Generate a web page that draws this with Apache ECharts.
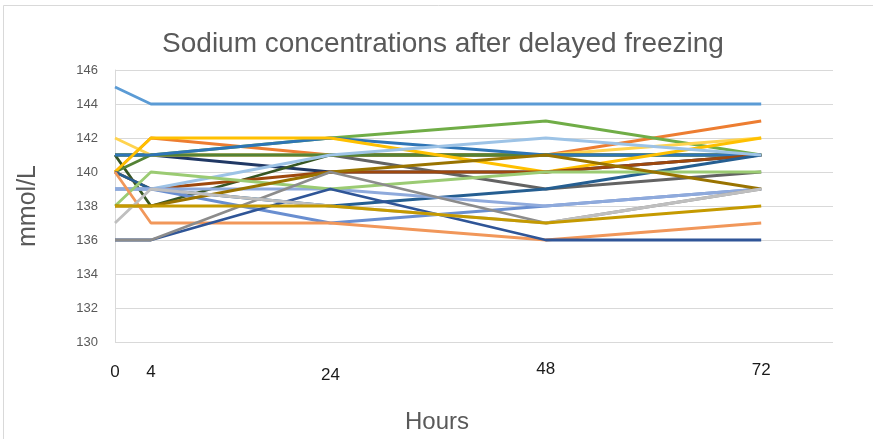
<!DOCTYPE html>
<html>
<head>
<meta charset="utf-8">
<script src="https://cdn.jsdelivr.net/npm/echarts@6/dist/echarts.min.js"></script>
<style>
  html, body { margin: 0; padding: 0; background: #ffffff; }
  #chart { width: 873px; height: 439px; }
</style>
</head>
<body>
<div id="chart"></div>
<script>
// Sampling times (hours after collection)
const hours = [0, 4, 24, 48, 72];
const hourTicks = [0, 4, 24, 48, 72];

// Sodium (mmol/L) per sample at each time point
const sampleA = [145, 144, 144, 144, 144];
const sampleB = [140, 142, 141, 141, 143];
const sampleC = [141, 141, 140, 140, 141];
const sampleD = [141, 141, 141, 139, 140];
const sampleE = [141, 141, 142, 143, 141];
const sampleF = [142, 141, 141, 141, 142];
const sampleG = [141, 138, 141, 141, 141];
const sampleH = [140, 141, 141, 141, 141];
const sampleI = [141, 141, 142, 141, 141];
const sampleJ = [140, 142, 142, 140, 142];
const sampleK = [140, 139, 140, 140, 141];
const sampleL = [140, 139, 138, 139, 141];
const sampleM = [139, 139, 141, 142, 141];
const sampleN = [139, 139, 137, 138, 139];
const sampleO = [139, 139, 139, 138, 139];
const sampleP = [138, 140, 139, 140, 140];
const sampleQ = [138, 138, 140, 141, 139];
const sampleR = [140, 137, 137, 136, 137];
const sampleS = [136, 136, 139, 136, 136];
const sampleT = [136, 136, 140, 137, 139];
const sampleU = [137, 139, 138, 137, 139];
const sampleV = [138, 138, 138, 137, 138];

const samples = [sampleA, sampleB, sampleC, sampleD, sampleE, sampleF, sampleG, sampleH,
  sampleI, sampleJ, sampleK, sampleL, sampleM, sampleN, sampleO, sampleP, sampleQ,
  sampleR, sampleS, sampleT, sampleU, sampleV];

const lineColors = ['#5B9BD5', '#ED7D31', '#203864', '#636363', '#70AD47', '#FFD34F',
  '#375623', '#548235', '#2E75B6', '#FFC000', '#9E480E', '#255E91', '#9DC3E6',
  '#698ED0', '#8FAADC', '#9BCB73', '#997300', '#F1975A', '#2F5597', '#8C8C8C',
  '#BFBFBF', '#C59A00'];

const textGray = '#595959';
const gridGray = '#D9D9D9';
const font = 'Liberation Sans';

// vertical nudges for the individual hour labels
const labelNudge = { 0: 3, 4: 3, 24: 6, 48: 0, 72: 1 };
const richLabels = {};
hourTicks.forEach(function (h) {
  richLabels['h' + h] = { fontSize: 17, color: '#1a1a1a', fontFamily: font, padding: [labelNudge[h], 0, 0, 0] };
});

const chart = echarts.init(document.getElementById('chart'), null, { renderer: 'canvas' });

chart.setOption({
  animation: false,
  backgroundColor: '#ffffff',
  title: {
    text: 'Sodium concentrations after delayed freezing',
    left: 443,
    top: 30,
    textAlign: 'center',
    padding: 0,
    textStyle: { fontFamily: font, fontSize: 28, fontWeight: 'normal', color: textGray }
  },
  graphic: [{
    type: 'rect',
    shape: { x: 3.5, y: 5.5, width: 900, height: 500 },
    style: { fill: 'none', stroke: gridGray, lineWidth: 1 },
    silent: true
  }],
  grid: { left: 115, right: 40, top: 70, bottom: 95, containLabel: false },
  xAxis: {
    type: 'value',
    min: 0,
    max: 80,
    name: 'Hours',
    nameLocation: 'middle',
    nameGap: 68,
    nameTextStyle: { fontFamily: font, fontSize: 24, color: textGray, padding: [0, 74, 0, 0] },
    axisLine: { show: false },
    axisTick: { show: false },
    splitLine: { show: false },
    axisLabel: {
      customValues: hourTicks,
      margin: 19,
      formatter: function (v) { return '{h' + v + '|' + v + '}'; },
      rich: richLabels
    }
  },
  yAxis: {
    type: 'value',
    min: 130,
    max: 146,
    interval: 2,
    name: 'mmol/L',
    nameLocation: 'middle',
    nameGap: 74,
    nameTextStyle: { fontFamily: font, fontSize: 25, color: textGray },
    axisLine: { show: true, lineStyle: { color: gridGray, width: 1 } },
    axisTick: { show: false },
    splitLine: { show: true, lineStyle: { color: gridGray, width: 1 } },
    axisLabel: { fontFamily: font, fontSize: 13, color: textGray, margin: 17 }
  },
  series: samples.map(function (vals, i) {
    return {
      type: 'line',
      data: hours.map(function (h, j) { return [h, vals[j]]; }),
      showSymbol: false,
      symbol: 'none',
      lineStyle: { color: lineColors[i], width: 2.8 },
      itemStyle: { color: lineColors[i] },
      z: 2 + i * 0.01
    };
  })
});
</script>
</body>
</html>
